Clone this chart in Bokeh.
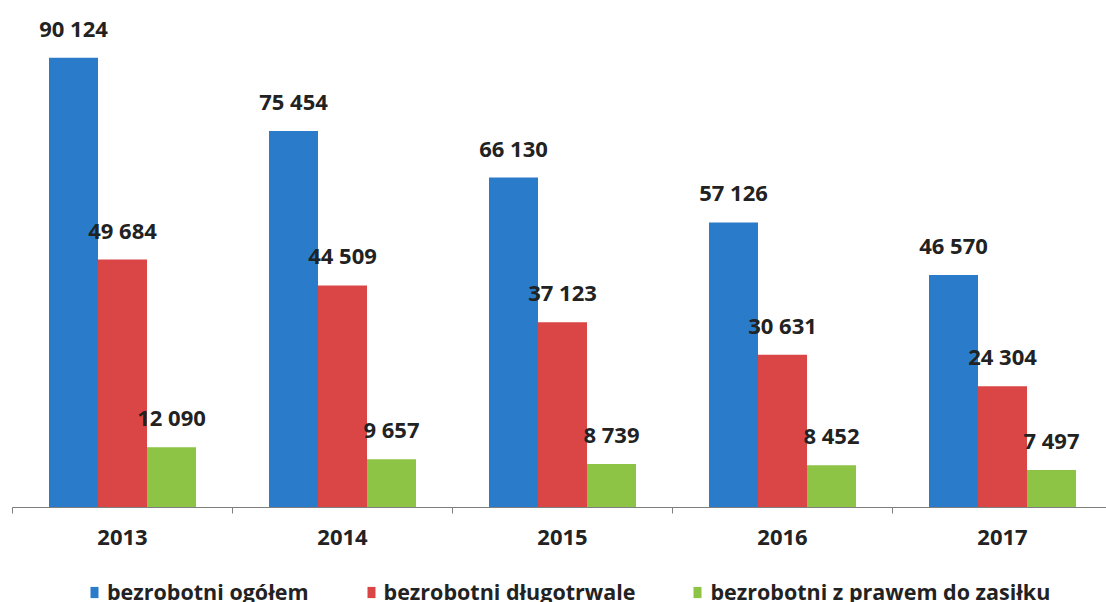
from bokeh.plotting import figure
from bokeh.layouts import column
from bokeh.models import ColumnDataSource, FixedTicker, Legend, LegendItem, Range1d
from bokeh.core.properties import value
from bokeh.embed import file_html
from bokeh.resources import INLINE

years = ["2013", "2014", "2015", "2016", "2017"]
ogolem = [90124, 75454, 66130, 57126, 46570]
dlugotrwale = [49684, 44509, 37123, 30631, 24304]
zasilek = [12090, 9657, 8739, 8452, 7497]
series_names = ["bezrobotni ogółem", "bezrobotni długotrwale", "bezrobotni z prawem do zasiłku"]
colors = ["#2B7BCB", "#DA4646", "#8DC445"]

def fmt(v):
    return f"{v:,}".replace(",", " ")

FONT = "Open Sans"
TXT = "#222222"

p = figure(width=1106, height=574, output_backend="svg", toolbar_location=None,
           x_range=Range1d(0, 1094 / 220), y_range=Range1d(0, 100000),
           min_border_left=12, min_border_right=0, min_border_top=8, min_border_bottom=67)
p.outline_line_color = None
p.xgrid.grid_line_color = None
p.ygrid.grid_line_color = None
p.yaxis.visible = False
p.background_fill_color = "white"
p.border_fill_color = "white"

# legend strip below the chart (its bars are hidden, only the legend shows)
leg = figure(width=1106, height=28, output_backend="svg", toolbar_location=None,
             x_range=p.x_range, y_range=Range1d(-200000, -100000),
             x_axis_location=None, y_axis_location=None,
             min_border_left=0, min_border_right=0, min_border_top=0, min_border_bottom=0)
leg.outline_line_color = None
leg.xgrid.grid_line_color = None
leg.ygrid.grid_line_color = None
leg.background_fill_color = "white"
leg.border_fill_color = "white"

centers = [i + 0.5 for i in range(len(years))]
bw = 49 / 220
offsets = [-bw, 0, bw]
leg_renderers = []
for vals, col, off in zip([ogolem, dlugotrwale, zasilek], colors, offsets):
    src = ColumnDataSource(dict(x=[c + off for c in centers], top=vals,
                                lab=[fmt(v) for v in vals]))
    p.vbar(x="x", top="top", width=bw, bottom=0, source=src,
           fill_color=col, line_color=None)
    p.text(x="x", y="top", text="lab", source=src, text_align="center",
           text_baseline="alphabetic", y_offset=-30,
           text_font=value(FONT), text_font_style="bold",
           text_font_size="22px", text_color=TXT)
    lr = leg.vbar(x="x", top="top", width=bw, bottom=0, source=src,
                  fill_color=col, line_color=None, visible=False)
    leg_renderers.append(lr)

ax = p.xaxis[0]
ax.ticker = FixedTicker(ticks=centers, minor_ticks=list(range(len(years) + 1)))
ax.major_label_overrides = {c: y for c, y in zip(centers, years)}
ax.major_tick_out = 0
ax.major_tick_in = 0
ax.minor_tick_out = 6
ax.minor_tick_in = 0
ax.minor_tick_line_color = "#7F7F7F"
ax.axis_line_color = "#7F7F7F"
ax.axis_line_width = 1
ax.major_label_standoff = 16
ax.major_label_text_font = FONT
ax.major_label_text_font_style = "bold"
ax.major_label_text_font_size = "22px"
ax.major_label_text_color = TXT

legend = Legend(items=[LegendItem(label=n, renderers=[r]) for n, r in zip(series_names, leg_renderers)],
                orientation="horizontal", location=(77, -4),
                glyph_width=10, glyph_height=14, label_standoff=8, spacing=57,
                padding=0, margin=0, border_line_color=None, background_fill_alpha=0,
                inactive_fill_alpha=0,
                label_text_font=FONT, label_text_font_style="bold",
                label_text_font_size="21.5px", label_text_color=TXT)
leg.add_layout(legend, "center")

layout = column(p, leg, spacing=0)
open("out.html", "w").write(file_html(layout, INLINE))
